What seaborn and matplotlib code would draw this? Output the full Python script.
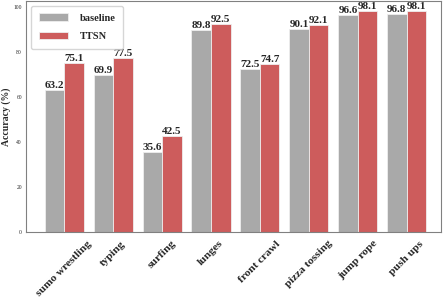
import pandas as pd
import matplotlib.pyplot as plt
import seaborn as sns

plt.switch_backend('Agg')

categories = ["sumo wrestling", "typing", "surfing", "lunges", "front crawl",
              "pizza tossing", "jump rope", "push ups"]
baseline = [63.2, 69.9, 35.6, 89.8, 72.5, 90.1, 96.6, 96.8]
ttsn = [75.1, 77.5, 42.5, 92.5, 74.7, 92.1, 98.1, 98.1]

df = pd.DataFrame({
    "action": categories * 2,
    "accuracy": baseline + ttsn,
    "method": ["baseline"] * len(categories) + ["TTSN"] * len(categories),
})

sns.set_style("white")
plt.rcParams['font.family'] = ['Liberation Serif', 'DejaVu Serif']

fig, ax = plt.subplots(figsize=(4.43, 2.99), dpi=100)
sns.barplot(data=df, x="action", y="accuracy", hue="method",
            palette=["#a9a9a9", "#cd5c5c"], saturation=1,
            edgecolor="#eeeeee", linewidth=0.6, width=0.8, ax=ax)

for container in ax.containers:
    ax.bar_label(container, fmt="%.1f", fontsize=8, fontweight="bold", padding=0)

ax.set_ylim(0, 102.7)
ax.set_xlim(-0.78, 7.7)
ax.set_yticks([0, 20, 40, 60, 80, 100])
ax.tick_params(axis='y', labelsize=4, length=2, pad=1)
ax.tick_params(axis='x', labelsize=8.2, length=2, pad=3)
for lbl in ax.get_xticklabels():
    lbl.set_rotation(45)
    lbl.set_ha("center")
    lbl.set_fontweight("bold")
ax.set_xlabel("")
ax.set_ylabel("Accuracy (%)", fontsize=7, fontweight="bold", labelpad=2)
for s in ax.spines.values():
    s.set_color("#808080")

leg = ax.legend(loc="upper left", fontsize=7.5, frameon=True, handlelength=2.8,
                borderpad=0.7, labelspacing=0.9, handletextpad=1.2)
leg.get_frame().set_edgecolor("#cccccc")
for t in leg.get_texts():
    t.set_fontweight("bold")

fig.subplots_adjust(left=0.059, right=0.995, top=0.997, bottom=0.224)
plt.savefig("out.png", dpi=100)
plt.close('all')
